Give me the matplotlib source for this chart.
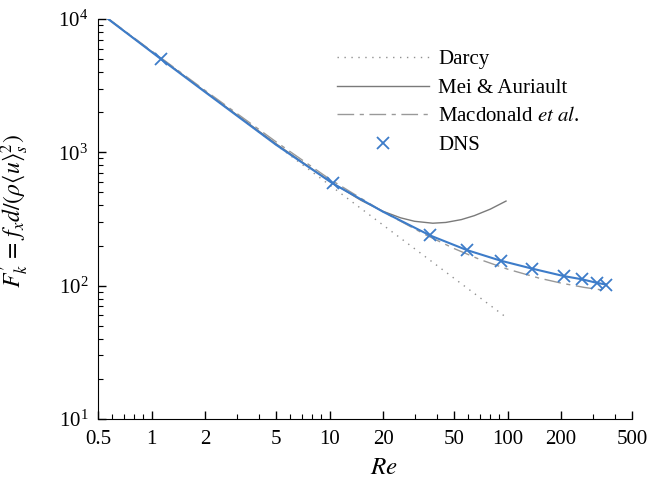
import numpy as np
import matplotlib
matplotlib.use("Agg")
import matplotlib.pyplot as plt
from matplotlib.ticker import FixedLocator, FixedFormatter, LogLocator, NullFormatter

plt.rcParams['font.family'] = ['Liberation Serif', 'DejaVu Serif']
plt.rcParams['mathtext.fontset'] = 'stix'
plt.rcParams['font.size'] = 15

# Darcy law
re_darcy = [0.57, 98]
f_darcy = [10000, 58]

# Mei & Auriault (weak inertia)
re_mei = [0.57, 1, 2, 5, 10, 15, 20, 25, 30, 38, 45, 55, 65, 80, 98]
f_mei = [10000, 5700, 2860, 1160, 608, 437, 361, 323, 304, 294, 298, 313, 335, 375, 431]

# Macdonald et al.
re_mac = [0.575, 1, 2, 5, 10, 20, 35, 50, 70, 100, 150, 200, 270, 340]
f_mac = [10000, 5760, 2910, 1200, 630, 358, 239, 190, 157, 133, 114, 104.5, 97, 92.8]

# DNS points and fit through them
re_dns = [1.13, 10.4, 36.7, 59, 91.4, 138, 207, 263, 317, 357]
f_dns = [5000, 585, 238, 185, 154, 134, 118, 111.5, 105, 102]
re_fit = [0.57, 1.13, 2, 5, 10.4, 20, 36.7, 59, 91.4, 138, 207, 263, 317, 357]
f_fit = [10000, 5000, 2830, 1140, 585, 358, 238, 185, 154, 134, 118, 111.5, 105, 102]

xticks = [0.5, 1, 2, 5, 10, 20, 50, 100, 200, 500]
xticklabels = ['0.5', '1', '2', '5', '10', '20', '50', '100', '200', '500']

blue = '#3d7cc9'

fig = plt.figure(figsize=(6.48, 4.83), dpi=100)
ax = fig.add_axes([98/648, 1 - 419/483, 534/648, 400/483])

ax.plot(re_darcy, f_darcy, color='#909090', lw=1.0, linestyle=(0, (1, 4)), label='Darcy')
ax.plot(re_mei, f_mei, color='#7a7a7a', lw=1.0, label='Mei & Auriault')
ax.plot(re_mac, f_mac, color='#999999', lw=1.0, linestyle=(0, (12, 4, 3, 4)),
        label=r'Macdonald $\mathit{et\ al}$.')
ax.plot(re_fit, f_fit, color=blue, lw=1.5)
ax.plot(re_dns, f_dns, linestyle='none', marker='x', color=blue, ms=8, mew=1.3, label='DNS')

ax.set_xscale('log')
ax.set_yscale('log')
ax.set_xlim(0.5, 500)
ax.set_ylim(10, 1e4)

ax.xaxis.set_major_locator(FixedLocator(xticks))
ax.xaxis.set_major_formatter(FixedFormatter(xticklabels))
ax.xaxis.set_minor_locator(LogLocator(base=10, subs=np.arange(2, 10)))
ax.xaxis.set_minor_formatter(NullFormatter())
ax.yaxis.set_minor_locator(LogLocator(base=10, subs=np.arange(2, 10)))
ax.yaxis.set_minor_formatter(NullFormatter())

ax.tick_params(which='major', direction='in', length=6, width=1, labelsize=15)
ax.tick_params(axis='x', which='major', pad=8)
ax.tick_params(axis='y', which='major', pad=7)
ax.tick_params(which='minor', direction='in', length=3.5, width=0.8)
ax.spines['top'].set_visible(False)
ax.spines['right'].set_visible(False)

ax.set_xlabel(r'$Re$', fontsize=18)
ax.xaxis.set_label_coords(0.536, -0.095)
ax.set_ylabel(r"$F^{\prime}_{k}\,=\,f_x d/(\rho\langle u\rangle_s^2)$", fontsize=17)
ax.yaxis.set_label_coords(-0.125, 0.52)

ax.legend(loc='upper left', bbox_to_anchor=(0.413, 0.97), frameon=False,
          handlelength=4.4, handletextpad=0.45, labelspacing=0.43, fontsize=15)

fig.savefig('out.png', dpi=100)
